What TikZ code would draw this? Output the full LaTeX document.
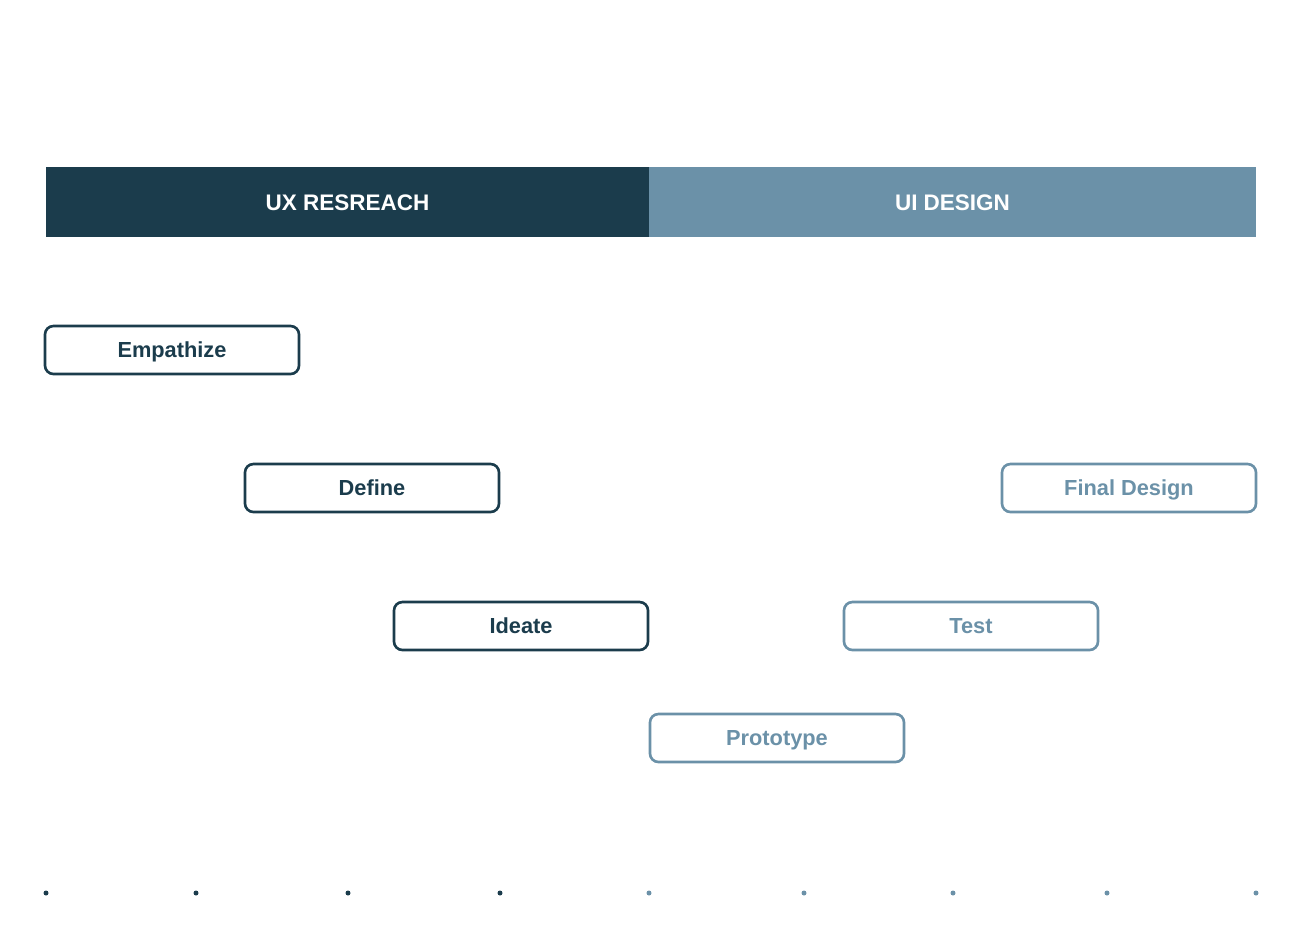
\documentclass[tikz,border=0pt]{standalone}
\usepackage{fontspec}
\setmainfont{Liberation Sans}
\usetikzlibrary{positioning}

\definecolor{uxdark}{HTML}{1B3C4C}
\definecolor{uilight}{HTML}{6B91A8}

\tikzset{
  bar/.style={fill=#1,text=white,font=\bfseries\fontsize{6.4}{8}\selectfont,
    minimum height=0.70cm,inner sep=0pt,outer sep=0pt,
    text height=4.6pt,text depth=0pt},
  phase/.style={draw=#1,text=#1,line width=0.75pt,rounded corners=2.4pt,
    minimum width=2.54cm,minimum height=0.48cm,inner sep=0pt,
    text height=4.45pt,text depth=0pt,
    font=\bfseries\fontsize{6.2}{7.5}\selectfont},
  tick/.style={fill=#1,draw=none}
}

\begin{document}
\begin{tikzpicture}[node distance=2cm,on grid]
    \useasboundingbox (0,0) rectangle (13.01,-9.40);

    \node[bar=uxdark,minimum width=6.03cm]  (ux) at (3.475,-2.02) {UX RESREACH};
    \node[bar=uilight,minimum width=6.07cm] (ui) at (9.525,-2.02) {UI DESIGN};

    \node[phase=uxdark]  (emp)   at (1.72,-3.50)             {Empathize};
    \node[phase=uxdark]  (def)   [below right=1.38 and 2.00 of emp]  {Define};
    \node[phase=uxdark]  (idea)  [below right=1.38 and 1.49 of def]  {Ideate};
    \node[phase=uilight] (proto) [below right=1.12 and 2.56 of idea] {Prototype};
    \node[phase=uilight] (test)  [above right=1.12 and 1.94 of proto] {Test};
    \node[phase=uilight] (final) [above right=1.38 and 1.58 of test] {Final Design};

    % timeline dots
    \foreach \x in {0.46,1.96,3.48,5.00}
        \fill[tick=uxdark] (\x,-8.93) circle (0.025);
    \foreach \x in {6.49,8.04,9.53,11.07,12.56}
        \fill[tick=uilight] (\x,-8.93) circle (0.025);
\end{tikzpicture}
\end{document}
